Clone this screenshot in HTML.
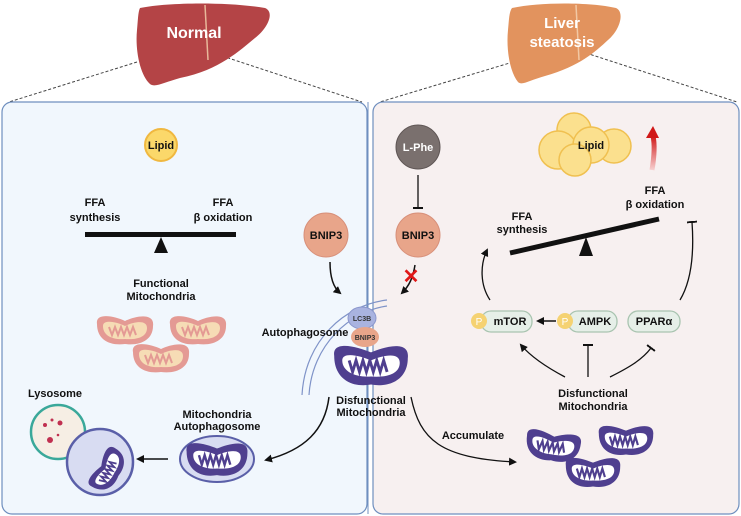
<!DOCTYPE html>
<html><head><meta charset="utf-8"><style>
html,body{margin:0;padding:0;background:#fff;}
svg{display:block;font-family:"Liberation Sans",Arial,sans-serif;}
.t{font-weight:bold;fill:#111;font-size:11px;text-anchor:middle;}
</style></head><body>
<svg width="741" height="516" viewBox="0 0 741 516">
<defs>
<marker id="ah" markerWidth="8" markerHeight="8" refX="6" refY="4" orient="auto" markerUnits="userSpaceOnUse"><path d="M0,0 L8,4 L0,8 Z" fill="#111"/></marker>
<marker id="tb" markerWidth="2" markerHeight="10" refX="1" refY="5" orient="auto" markerUnits="userSpaceOnUse"><rect x="0" y="0" width="2" height="10" fill="#111"/></marker>
<linearGradient id="ra" x1="0" y1="1" x2="0" y2="0"><stop offset="0" stop-color="#f7d0d0"/><stop offset="1" stop-color="#d01818"/></linearGradient>
<g id="pm"><path d="M-28,-6 C-30,-18 -10,-14 0,-9 C10,-14 30,-18 28,-4 C28,10 15,16 0,14 C-15,16 -28,10 -28,-6Z" fill="#e49a94"/><path d="M-22,-4 C-22,-11 -8,-8 0,-4 C8,-8 22,-11 22,-2 C22,7 12,10 0,9 C-12,10 -22,6 -22,-4Z" fill="#f6dcb5"/><path d="M-16,-3 l3,8 l3,-8 l3,8 l3,-8 l3,8 l3,-8 l3,8 l3,-8 l3,8" stroke="#e49a94" stroke-width="2" fill="none"/></g>
<g id="dm"><path d="M-32,-8 C-34,-22 -12,-16 0,-11 C12,-16 34,-22 32,-6 C32,12 17,20 0,17 C-17,20 -32,12 -32,-8Z" fill="#4f3f8f"/><path d="M-25,-4 C-25,-12 -9,-8 0,-4 C9,-8 25,-12 25,-2 C25,8 13,11 0,10 C-13,11 -25,6 -25,-4Z" fill="#fff"/><path d="M-19,-4 l3,10 l3,-10 l3,10 l3,-10 l3,10 l3,-10 l3,10 l3,-10 l3,10 l3,-10 l3,10" stroke="#4f3f8f" stroke-width="2.5" fill="none"/></g>
</defs>

<!-- dashed lines -->
<g stroke="#444" stroke-dasharray="3,2" stroke-width="1">
<line x1="137" y1="62" x2="9" y2="102"/><line x1="213" y1="53" x2="362" y2="102"/>
<line x1="513" y1="62" x2="380" y2="102"/><line x1="586" y1="53" x2="737" y2="102"/>
</g>
<!-- panels -->
<rect x="2" y="102" width="365" height="412" rx="10" fill="#f1f7fd" stroke="#6f8fbf" stroke-width="1.2"/>
<rect x="373" y="102" width="366" height="412" rx="10" fill="#f7f0f0" stroke="#6f8fbf" stroke-width="1.2"/>

<!-- livers -->
<path d="M140,8 C170,2 230,2 265,8 C275,12 268,28 255,38 C240,50 220,70 180,78 C165,82 155,88 150,84 C140,75 135,50 137,30 C138,20 138,12 140,8Z" fill="#b44446"/>
<path d="M205,5 L208,60" stroke="#e8b89a" stroke-width="1.5" fill="none"/>
<text x="194" y="38" font-size="16" font-weight="bold" fill="#fff" text-anchor="middle">Normal</text>
<path d="M512,8 C540,2 590,2 616,8 C625,12 620,30 608,40 C595,52 580,66 545,76 C530,80 522,86 518,82 C510,72 506,50 508,30 C509,20 509,12 512,8Z" fill="#e2935e"/>
<path d="M576,5 L579,60" stroke="#f2c8a4" stroke-width="1.5" fill="none"/>
<text x="562" y="28" font-size="15" font-weight="bold" fill="#fff" text-anchor="middle">Liver</text>
<text x="562" y="47" font-size="15" font-weight="bold" fill="#fff" text-anchor="middle">steatosis</text>

<!-- LEFT panel -->
<circle cx="161" cy="145" r="16" fill="#fbd86a" stroke="#f0b840" stroke-width="2"/>
<text class="t" x="161" y="149" font-size="9">Lipid</text>
<text class="t" x="95" y="206">FFA</text><text class="t" x="95" y="221">synthesis</text>
<text class="t" x="223" y="206">FFA</text><text class="t" x="223" y="221">β oxidation</text>
<rect x="85" y="232" width="151" height="5" fill="#111"/>
<path d="M161,237 L154,253 L168,253Z" fill="#111"/>
<circle cx="326" cy="235" r="22" fill="#e8a58a" stroke="#d8907a" stroke-width="1"/>
<text class="t" x="326" y="239" font-size="11">BNIP3</text>
<path d="M330,262 C330,278 334,288 340,293" stroke="#111" stroke-width="1.5" fill="none" marker-end="url(#ah)"/>
<text class="t" x="161" y="287">Functional</text><text class="t" x="161" y="300">Mitochondria</text>
<use href="#pm" transform="translate(125,330)"/>
<use href="#pm" transform="translate(198,330)"/>
<use href="#pm" transform="translate(161,358)"/>

<!-- autophagosome -->
<path d="M387,300 C345,305 305,340 302,395" stroke="#7f93c8" stroke-width="1.2" fill="none"/>
<path d="M387,306 C350,311 312,345 309,395" stroke="#7f93c8" stroke-width="1.2" fill="none"/>
<line x1="368" y1="102" x2="368" y2="514" stroke="#6f8fbf" stroke-width="1"/>
<ellipse cx="362" cy="318" rx="14" ry="11" fill="#a9b3e0" stroke="#8a96cc"/>
<text x="362" y="321" font-size="7" font-weight="bold" fill="#333" text-anchor="middle">LC3B</text>
<ellipse cx="365" cy="337" rx="14" ry="10" fill="#e8a58a"/>
<text x="365" y="340" font-size="7" font-weight="bold" fill="#333" text-anchor="middle">BNIP3</text>
<use href="#dm" transform="translate(371,365) scale(1.15)"/>
<text class="t" x="305" y="336" font-size="10.5">Autophagosome</text>
<text class="t" x="371" y="404" font-size="10.5">Disfunctional</text>
<text class="t" x="371" y="416" font-size="10.5">Mitochondria</text>
<path d="M329,397 C325,430 305,450 266,460" stroke="#111" stroke-width="1.5" fill="none" marker-end="url(#ah)"/>
<text class="t" x="217" y="418" font-size="10.5">Mitochondria</text>
<text class="t" x="217" y="430" font-size="10.5">Autophagosome</text>
<ellipse cx="217" cy="459" rx="37" ry="23" fill="#d8dcf2" stroke="#5a5fa8" stroke-width="2"/>
<use href="#dm" transform="translate(217,459) scale(0.95)"/>
<line x1="168" y1="459" x2="138" y2="459" stroke="#111" stroke-width="1.5" marker-end="url(#ah)"/>
<text class="t" x="55" y="397" font-size="10.5">Lysosome</text>
<circle cx="58" cy="432" r="27" fill="#f6eee4" stroke="#3aa89a" stroke-width="2.5"/>
<circle cx="100" cy="462" r="33" fill="#d8dcf2" stroke="#5a5fa8" stroke-width="2.5"/>
<g fill="#c03050"><circle cx="45" cy="425" r="2"/><circle cx="52" cy="420" r="1.5"/><circle cx="60" cy="423" r="2.5"/><circle cx="50" cy="440" r="3"/><circle cx="58" cy="435" r="1.3"/></g>
<g transform="translate(108,470) rotate(-60)"><use href="#dm" transform="scale(0.7)"/></g>

<!-- RIGHT panel -->
<circle cx="418" cy="147" r="22" fill="#7a706e" stroke="#5f5655"/>
<text x="418" y="151" font-size="11" font-weight="bold" fill="#fff" text-anchor="middle">L-Phe</text>
<line x1="418" y1="175" x2="418" y2="208" stroke="#111" stroke-width="1.3" marker-end="url(#tb)"/>
<circle cx="418" cy="235" r="22" fill="#e8a58a" stroke="#d8907a"/>
<text class="t" x="418" y="239" font-size="11">BNIP3</text>
<path d="M415,265 C413,278 409,286 402,293" stroke="#111" stroke-width="1.5" fill="none" marker-end="url(#ah)"/>
<text x="411" y="283" font-size="20" fill="#e01818" text-anchor="middle" font-weight="bold">✕</text>

<g fill="#fbe08e" stroke="#f0c050" stroke-width="1.5">
<circle cx="574" cy="130" r="17"/><circle cx="558" cy="150" r="19"/><circle cx="614" cy="146" r="17"/><circle cx="591" cy="145" r="18"/><circle cx="575" cy="160" r="16"/>
</g>
<text class="t" x="591" y="149" font-size="9">Lipid</text>
<path d="M652,170 C654,158 655,145 653,136" stroke="url(#ra)" stroke-width="5" fill="none"/>
<path d="M646,138 L653,126 L659,138Z" fill="#d01818"/>

<text class="t" x="655" y="194">FFA</text><text class="t" x="655" y="208">β oxidation</text>
<text class="t" x="522" y="220">FFA</text><text class="t" x="522" y="233">synthesis</text>
<line x1="510" y1="253" x2="659" y2="219" stroke="#111" stroke-width="5"/>
<path d="M586,237 L579,256 L593,256Z" fill="#111"/>

<!-- pills -->
<g fill="#e6efe8" stroke="#a9c4b0" stroke-width="1.3">
<rect x="481" y="311" width="51" height="21" rx="10"/>
<rect x="568" y="311" width="49" height="21" rx="10"/>
<rect x="628" y="311" width="52" height="21" rx="10"/>
</g>
<circle cx="479" cy="321" r="8" fill="#f5d272"/><text x="479" y="325" font-size="10" fill="#fff" text-anchor="middle">P</text>
<circle cx="565" cy="321" r="8" fill="#f5d272"/><text x="565" y="325" font-size="10" fill="#fff" text-anchor="middle">P</text>
<text class="t" x="510" y="325">mTOR</text>
<text class="t" x="595" y="325">AMPK</text>
<text class="t" x="654" y="325">PPARα</text>
<line x1="556" y1="321" x2="538" y2="321" stroke="#111" stroke-width="1.5" marker-end="url(#ah)"/>

<path d="M490,300 C480,285 480,265 487,250" stroke="#111" stroke-width="1.3" fill="none" marker-end="url(#ah)"/>
<path d="M680,300 C692,280 694,250 692,222" stroke="#111" stroke-width="1.3" fill="none" marker-end="url(#tb)"/>
<path d="M565,377 C548,368 532,358 521,345" stroke="#111" stroke-width="1.3" fill="none" marker-end="url(#ah)"/>
<line x1="588" y1="377" x2="588" y2="345" stroke="#111" stroke-width="1.3" marker-end="url(#tb)"/>
<path d="M610,377 C628,368 642,360 651,348" stroke="#111" stroke-width="1.3" fill="none" marker-end="url(#tb)"/>

<text class="t" x="593" y="397">Disfunctional</text>
<text class="t" x="593" y="410">Mitochondria</text>
<path d="M411,397 C420,440 440,458 515,462" stroke="#111" stroke-width="1.3" fill="none" marker-end="url(#ah)"/>
<text class="t" x="473" y="439" font-size="10.5">Accumulate</text>
<use href="#dm" transform="translate(553,446) rotate(8) scale(0.85)"/>
<use href="#dm" transform="translate(626,440) scale(0.85)"/>
<use href="#dm" transform="translate(593,472) scale(0.85)"/>
</svg>
</body></html>
